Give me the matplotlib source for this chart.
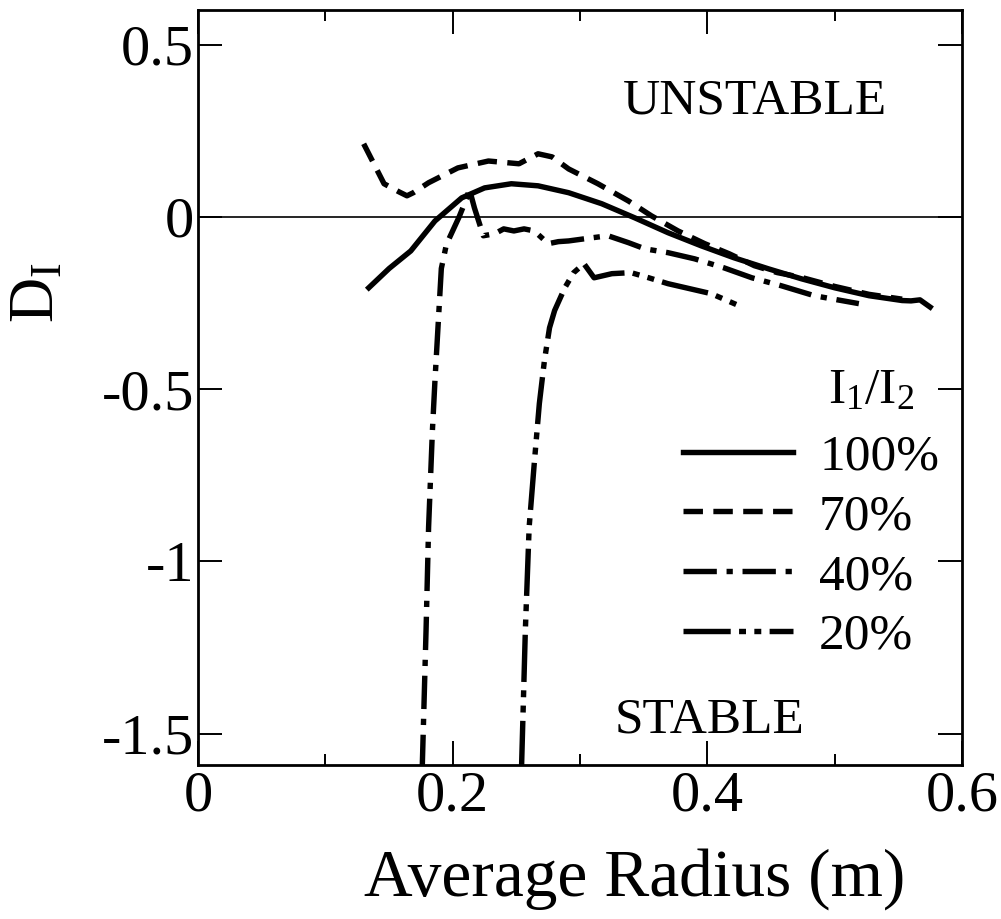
import matplotlib
matplotlib.use("Agg")
from matplotlib import pyplot as plt

plt.rcParams["font.family"] = ["Liberation Serif", "DejaVu Serif"]
plt.rcParams["mathtext.fontset"] = "custom"
plt.rcParams["mathtext.rm"] = "Liberation Serif"
plt.rcParams["mathtext.it"] = "Liberation Serif:italic"
plt.rcParams["lines.scale_dashes"] = False

# I1/I2 = 100 %
r_100 = [0.134, 0.150, 0.167, 0.186, 0.207, 0.225, 0.246, 0.267, 0.291, 0.317,
         0.343, 0.369, 0.395, 0.421, 0.448, 0.474, 0.500, 0.527, 0.553, 0.560,
         0.567, 0.575]
d_100 = [-0.206, -0.150, -0.099, -0.012, 0.055, 0.084, 0.096, 0.090, 0.070, 0.038,
         -0.003, -0.046, -0.084, -0.119, -0.151, -0.180, -0.206, -0.229, -0.243, -0.244,
         -0.241, -0.262]

# I1/I2 = 70 %
r_70 = [0.130, 0.146, 0.158, 0.164, 0.169, 0.181, 0.204, 0.228, 0.252, 0.267,
        0.278, 0.291, 0.314, 0.338, 0.356, 0.377, 0.398, 0.417, 0.437, 0.455,
        0.474, 0.500, 0.527, 0.553]
d_70 = [0.212, 0.096, 0.072, 0.061, 0.070, 0.099, 0.142, 0.162, 0.154, 0.183,
        0.174, 0.139, 0.096, 0.046, 0.003, -0.041, -0.078, -0.107, -0.142, -0.162,
        -0.176, -0.202, -0.225, -0.239]

# I1/I2 = 40 %
r_40 = [0.176, 0.179, 0.181, 0.184, 0.186, 0.189, 0.191, 0.195, 0.200, 0.205,
        0.211, 0.213, 0.217, 0.224, 0.233, 0.240, 0.248, 0.256, 0.264, 0.275,
        0.283, 0.291, 0.309, 0.322, 0.338, 0.351, 0.369, 0.390, 0.413, 0.435,
        0.458, 0.484, 0.519]
d_40 = [-1.60, -1.20, -0.90, -0.62, -0.475, -0.28, -0.15, -0.08, -0.04, 0.00,
        0.055, 0.081, 0.026, -0.055, -0.049, -0.035, -0.041, -0.035, -0.041, -0.078,
        -0.072, -0.070, -0.061, -0.055, -0.075, -0.093, -0.104, -0.122, -0.148, -0.177,
        -0.200, -0.229, -0.252]

# I1/I2 = 20 %
r_20 = [0.254, 0.257, 0.260, 0.264, 0.268, 0.272, 0.276, 0.280, 0.288, 0.295,
        0.303, 0.311, 0.325, 0.340, 0.354, 0.369, 0.403, 0.423]
d_20 = [-1.60, -1.20, -0.90, -0.716, -0.542, -0.417, -0.322, -0.272, -0.206, -0.162,
        -0.136, -0.177, -0.165, -0.162, -0.177, -0.194, -0.223, -0.255]

series_labels = ["100%", "70%", "40%", "20%"]
x_ticks = [0, 0.2, 0.4, 0.6]
x_ticklabels = ["0", "0.2", "0.4", "0.6"]
y_ticks = [0.5, 0, -0.5, -1, -1.5]
y_ticklabels = ["0.5", "0", "-0.5", "-1", "-1.5"]

fig = plt.figure(figsize=(10.01, 9.19), dpi=100)
ax = fig.add_axes([0.198, 0.168, 0.763, 0.821])

lw = 3.9
ax.plot(r_100, d_100, color="black", lw=lw, linestyle="-", label=series_labels[0])
ax.plot(r_70, d_70, color="black", lw=lw, linestyle=(0, (14, 7.5)), label=series_labels[1])
ax.plot(r_40, d_40, color="black", lw=lw, linestyle=(0, (24, 7, 4.5, 7)), label=series_labels[2])
ax.plot(r_20, d_20, color="black", lw=lw, linestyle=(0, (34, 6, 5, 6, 5, 6)), label=series_labels[3])

ax.axhline(0, color="black", lw=1.2)

ax.set_xlim(0, 0.6)
ax.set_ylim(-1.59, 0.6)

ax.set_xticks(x_ticks, x_ticklabels)
ax.set_xticks([0.1, 0.3, 0.5], minor=True)
ax.set_yticks(y_ticks, y_ticklabels)

ax.tick_params(which="both", direction="in", top=True, right=True, width=1.4,
               labelsize=42, colors="black")
ax.tick_params(which="major", length=17)
ax.tick_params(which="minor", length=8)
ax.tick_params(axis="x", pad=4)
ax.tick_params(axis="y", pad=3)
for s in ax.spines.values():
    s.set_linewidth(2.0)

# axis labels, placed by hand
ax.set_xlabel("Average Radius (m)", fontsize=48.5)
ax.xaxis.label.set_va("center")
ax.xaxis.set_label_coords(0.572, -0.152)
ax.set_ylabel(r"$\mathrm{D}_{\mathrm{I}}$", fontsize=45)
ax.yaxis.label.set_va("center")
ax.yaxis.set_label_coords(-0.209, 0.625)

ax.text(0.437, 0.336, "UNSTABLE", fontsize=37, ha="center", va="center")
ax.text(0.402, -1.461, "STABLE", fontsize=37, ha="center", va="center")

# legend with its heading drawn separately
ax.text(0.938, 0.495, r"$\mathrm{I}_1/\mathrm{I}_2$", fontsize=37,
        ha="right", va="center", transform=ax.transAxes)
ax.legend(loc="upper right", bbox_to_anchor=(0.997, 0.466), frameon=False,
          fontsize=37, handlelength=2.15, handletextpad=0.5, labelspacing=0.25,
          borderaxespad=0)

fig.savefig("out.png", dpi=100)
